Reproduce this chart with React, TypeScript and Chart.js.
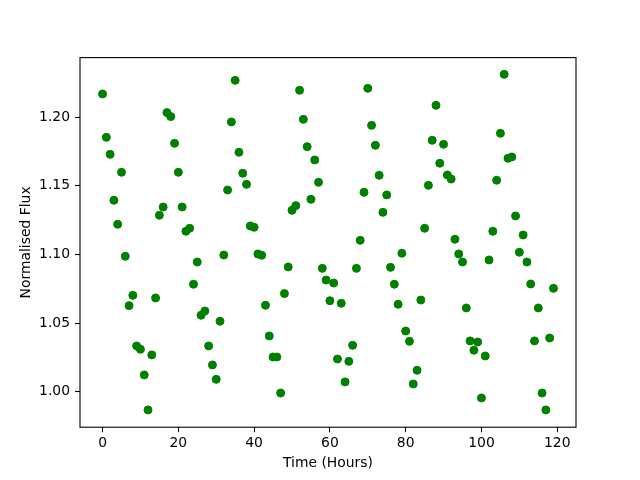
import React, { useEffect, useRef } from "react";
import { Chart, registerables } from "chart.js";

Chart.register(...registerables);

const timeHours: number[] = [
  0, 1, 2, 3, 4, 5, 6, 7, 8, 9, 10, 11, 12, 13, 14, 15, 16, 17, 18, 19,
  20, 21, 22, 23, 24, 25, 26, 27, 28, 29, 30, 31, 32, 33, 34, 35, 36, 37, 38, 39,
  40, 41, 42, 43, 44, 45, 46, 47, 48, 49, 50, 51, 52, 53, 54, 55, 56, 57, 58, 59,
  60, 61, 62, 63, 64, 65, 66, 67, 68, 69, 70, 71, 72, 73, 74, 75, 76, 77, 78, 79,
  80, 81, 82, 83, 84, 85, 86, 87, 88, 89, 90, 91, 92, 93, 94, 95, 96, 97, 98, 99,
  100, 101, 102, 103, 104, 105, 106, 107, 108, 109, 110, 111, 112, 113, 114, 115, 116, 117, 118, 119,
];

const normalisedFlux: number[] = [
  1.2170, 1.1854, 1.1730, 1.1395, 1.1220, 1.1599, 1.0987, 1.0627, 1.0702, 1.0333,
  1.0309, 1.0122, 0.9867, 1.0268, 1.0683, 1.1286, 1.1346, 1.2034, 1.2005, 1.1810,
  1.1599, 1.1346, 1.1169, 1.1191, 1.0783, 1.0945, 1.0557, 1.0588, 1.0333, 1.0195,
  1.0090, 1.0513, 1.0996, 1.1470, 1.1966, 1.2269, 1.1745, 1.1592, 1.1511, 1.1208,
  1.1198, 1.1004, 1.0994, 1.0630, 1.0406, 1.0253, 1.0253, 0.9990, 1.0715, 1.0909,
  1.1322, 1.1356, 1.2197, 1.1985, 1.1786, 1.1402, 1.1689, 1.1526, 1.0899, 1.0814,
  1.0663, 1.0792, 1.0238, 1.0644, 1.0071, 1.0221, 1.0338, 1.0899, 1.1103, 1.1453,
  1.2211, 1.1941, 1.1796, 1.1577, 1.1307, 1.1434, 1.0906, 1.0783, 1.0637, 1.1009,
  1.0442, 1.0367, 1.0056, 1.0156, 1.0668, 1.1191, 1.1504, 1.1832, 1.2087, 1.1665,
  1.1803, 1.1579, 1.1550, 1.1111, 1.1004, 1.0945, 1.0610, 1.0370, 1.0302, 1.0362,
  0.9954, 1.0260, 1.0960, 1.1169, 1.1541, 1.1883, 1.2313, 1.1701, 1.1711, 1.1281,
  1.1016, 1.1142, 1.0945, 1.0785, 1.0370, 1.0610, 0.9990, 0.9867, 1.0391, 1.0753,
];

const xTitle = "Time (Hours)";
const yTitle = "Normalised Flux";

const FONT = "'DejaVu Sans', sans-serif";

const frame = {
  id: "frame",
  afterDraw(chart: any) {
    const { ctx, chartArea } = chart;
    ctx.save();
    ctx.strokeStyle = "#000";
    ctx.lineWidth = 1.1;
    ctx.strokeRect(chartArea.left, chartArea.top, chartArea.right - chartArea.left, chartArea.bottom - chartArea.top);
    ctx.restore();
  },
};

export default function App() {
  const ref = useRef<HTMLCanvasElement | null>(null);

  useEffect(() => {
    if (!ref.current) return;
    const points = timeHours.map((t, i) => ({ x: t, y: normalisedFlux[i] }));
    const chart = new Chart(ref.current, {
      type: "scatter",
      data: {
        datasets: [
          {
            data: points,
            backgroundColor: "#008000",
            borderColor: "#008000",
            borderWidth: 1,
            pointRadius: 4,
          },
        ],
      },
      options: {
        animation: false,
        responsive: false,
        devicePixelRatio: 1,
        layout: { padding: { left: 0, right: 64, top: 57.6, bottom: 0 } },
        plugins: { legend: { display: false }, tooltip: { enabled: false } },
        scales: {
          x: {
            type: "linear",
            min: -5.95,
            max: 124.95,
            afterFit: (s: any) => { s.height = 52.8; },
            border: { display: false },
            grid: { drawOnChartArea: false, drawTicks: true, tickLength: 5, tickColor: "#000", tickWidth: 1.1 },
            ticks: {
              stepSize: 20,
              includeBounds: false,
              color: "#000",
              padding: 3,
              maxRotation: 0,
              font: { family: FONT, size: 13.9 },
              callback: (v: any) => String(Math.round(Number(v))),
            },
            title: {
              display: true,
              text: xTitle,
              color: "#000",
              font: { family: FONT, size: 13.9 },
              padding: { top: 0, bottom: 8 },
            },
          },
          y: {
            type: "linear",
            min: 0.9741,
            max: 1.2435,
            afterFit: (s: any) => { s.width = 80; },
            border: { display: false },
            grid: { drawOnChartArea: false, drawTicks: true, tickLength: 5, tickColor: "#000", tickWidth: 1.1 },
            ticks: {
              stepSize: 0.05,
              includeBounds: false,
              color: "#000",
              padding: 5,
              font: { family: FONT, size: 13.9 },
              callback: (v: any) => Number(v).toFixed(2),
            },
            title: {
              display: true,
              text: yTitle,
              color: "#000",
              font: { family: FONT, size: 13.9 },
              padding: { top: 18.5, bottom: 0 },
            },
          },
        },
      },
      plugins: [frame],
    } as any);
    return () => chart.destroy();
  }, []);

  return (
    <div style={{ position: "absolute", left: 0, top: 0, width: 640, height: 480, background: "#fff" }}>
      <canvas ref={ref} width={640} height={480} style={{ display: "block", width: 640, height: 480 }} />
    </div>
  );
}
